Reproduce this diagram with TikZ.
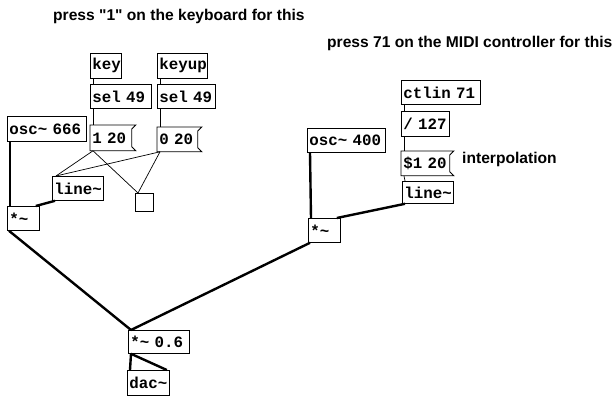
\documentclass[tikz,border=0pt]{standalone}
\usepackage{fontspec}
\newfontfamily\pdfont{Liberation Mono}
\newfontfamily\lblfont{Liberation Sans}
\newcommand\msgflag[1]{\draw[boxline] (#1.north west) -- (#1.north east) -- ([xshift=-4pt,yshift=-4pt]#1.north east) -- ([xshift=-4pt,yshift=4pt]#1.south east) -- (#1.south east) -- (#1.south west) -- cycle;}
\begin{document}
\begin{tikzpicture}[x=1pt,y=-1pt,
  boxline/.style={line width=0.8pt, draw=black},
  pd/.style={boxline, anchor=north west, inner xsep=2pt, inner ysep=0pt,
    font=\pdfont\bfseries\fontsize{15.8}{17}\selectfont, align=left},
  pdmsg/.style={pd, draw=none},
  lbl/.style={anchor=base west, inner sep=0pt, font=\lblfont\bfseries\fontsize{15.6}{18}\selectfont},
  ctl/.style={line width=0.7pt},
  sig/.style={line width=2.4pt}]
\useasboundingbox[fill=white] (0,0) rectangle (614,398);

\node[lbl] (t1) at (53,20.5) {press "1" on the keyboard for this};
\node[lbl] (t2) at (327,48) {press 71 on the MIDI controller for this};

% left part
\node[pd, text width=27pt, minimum height=25pt] (key) at (90,53) {key};
\node[pd, text width=46pt, minimum height=25pt] (keyup) at (157,53) {keyup};
\node[pd, text width=57pt, minimum height=24pt] (sel1) at (90,84) {sel 49};
\node[pd, text width=54pt, minimum height=24pt] (sel2) at (157,84) {sel 49};
\node[pd, text width=75pt, minimum height=25pt] (osc1) at (7,116) {osc\textasciitilde{} 666};
\node[pdmsg, text width=41pt, minimum height=25pt] (m1) at (90,125) {1 20};
\msgflag{m1}
\node[pdmsg, text width=40pt, minimum height=24pt] (m0) at (157,127) {0 20};
\msgflag{m0}
\node[pd, text width=47pt, minimum height=24pt] (line1) at (52,176) {line\textasciitilde};
\node[boxline, anchor=north west, minimum width=18pt, minimum height=18pt, inner sep=0pt] (bang) at (135,193) {};
\node[pd, text width=28pt, minimum height=24pt] (mul1) at (7,206) {*\textasciitilde};

% right part
\node[pd, text width=75pt, minimum height=24pt] (ctlin) at (401,80) {ctlin 71};
\node[pd, text width=44pt, minimum height=25pt] (div) at (401,111) {/ 127};
\node[pdmsg, text width=48pt, minimum height=24pt] (mdol) at (401,151) {\$1 20};
\msgflag{mdol}
\node[lbl] (interp) at (462,164) {interpolation};
\node[pd, text width=47pt, minimum height=22pt] (line2) at (402,181) {line\textasciitilde};
\node[pd, text width=74pt, minimum height=24pt] (osc2) at (307,128) {osc\textasciitilde{} 400};
\node[pd, text width=28pt, minimum height=24pt] (mul2) at (308,218) {*\textasciitilde};

% bottom
\node[pd, text width=57pt, minimum height=23pt] (mul06) at (128,330) {*\textasciitilde{} 0.6};
\node[pd, text width=38pt, minimum height=25pt] (dac) at (127,370) {dac\textasciitilde};

% control connections
\draw[ctl] ([xshift=3pt]key.south west) -- ([xshift=3pt]sel1.north west);
\draw[ctl] ([xshift=3pt]keyup.south west) -- ([xshift=3pt]sel2.north west);
\draw[ctl] ([xshift=3pt]sel1.south west) -- ([xshift=3pt]m1.north west);
\draw[ctl] ([xshift=3pt]sel2.south west) -- ([xshift=3pt]m0.north west);
\draw[ctl] ([xshift=3pt]m1.south west) -- ([xshift=4pt]line1.north west);
\draw[ctl] ([xshift=3pt]m1.south west) -- ([xshift=3pt]bang.north west);
\draw[ctl] ([xshift=3pt]m0.south west) -- ([xshift=4pt]line1.north west);
\draw[ctl] ([xshift=3pt]m0.south west) -- ([xshift=3pt]bang.north west);
\draw[ctl] ([xshift=3pt]ctlin.south west) -- ([xshift=3pt]div.north west);
\draw[ctl] ([xshift=3pt]div.south west) -- ([xshift=3pt]mdol.north west);
\draw[ctl] ([xshift=3pt]mdol.south west) -- ([xshift=3pt]line2.north west);

% signal connections
\draw[sig] ([xshift=3pt]osc1.south west) -- ([xshift=3pt]mul1.north west);
\draw[sig] ([xshift=3pt]line1.south west) -- ([xshift=-4pt]mul1.north east);
\draw[sig] ([xshift=2pt]mul1.south west) -- ([xshift=3pt]mul06.north west);
\draw[sig] ([xshift=2pt]mul2.south west) -- ([xshift=3pt]mul06.north west);
\draw[sig] ([xshift=3pt]osc2.south west) -- ([xshift=3pt]mul2.north west);
\draw[sig] ([xshift=3pt]line2.south west) -- ([xshift=-4pt]mul2.north east);
\draw[sig] ([xshift=3pt]mul06.south west) -- ([xshift=3pt]dac.north west);
\draw[sig] ([xshift=3pt]mul06.south west) -- ([xshift=-3pt]dac.north east);
\end{tikzpicture}
\end{document}
